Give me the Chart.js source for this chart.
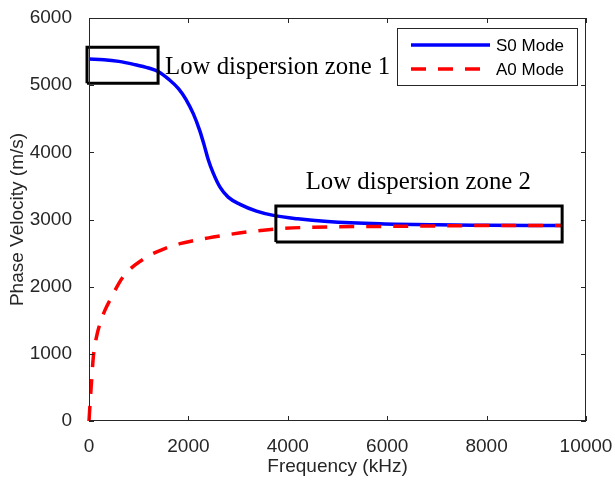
<!DOCTYPE html>
<html>
<head>
<meta charset="utf-8">
<script src="https://cdn.jsdelivr.net/npm/chart.js@4.4.1/dist/chart.umd.min.js"></script>
<style>
    body { margin: 0; background: #fff; }
    #wrap { width: 615px; height: 484px; position: relative; }
</style>
</head>
<body>
<div id="wrap"><canvas id="Chart1"></canvas></div>
<script>
// S0 mode (blue, solid)
const freqS0 = [0, 300, 600, 900, 1200, 1400, 1600, 1800, 1950, 2100, 2230, 2320, 2400, 2500, 2636, 2800, 3040, 3370, 3710, 4200, 4800, 5855, 7000, 8000, 9500];
const velS0 = [5390, 5380, 5354, 5310, 5255, 5200, 5090, 4950, 4790, 4572, 4320, 4100, 3890, 3690, 3481, 3333, 3225, 3125, 3061, 3010, 2970, 2935, 2920, 2915, 2910];

// A0 mode (red, dashed)
const freqA0 = [0, 25, 53, 87, 150, 221, 322, 422, 690, 1160, 1500, 1831, 2500, 3173, 3843, 4500, 5855, 7000, 8000, 9500];
const velA0 = [0, 300, 610, 955, 1250, 1450, 1650, 1800, 2150, 2441, 2560, 2640, 2738, 2813, 2863, 2885, 2897, 2905, 2910, 2912];

const seriesLabels = ["S0 Mode", "A0 Mode"];

const xTicks = [0, 2000, 4000, 6000, 8000, 10000];
const yTicks = [0, 1000, 2000, 3000, 4000, 5000, 6000];

// annotation boxes [xmin, xmax, ymin, ymax] and their captions
const zone1Box = [-40, 1390, 5030, 5565];
const zone2Box = [3760, 9520, 2665, 3200];
const zoneLabels = ["Low dispersion zone 1", "Low dispersion zone 2"];
const zoneLabelAt = [[1530, 5170], [4360, 3450]];

const axisColor = "#262626";

function toPoints(xs, ys) {
    return xs.map((x, i) => ({x: x, y: ys[i]}));
}

function boxPoints(b) {
    return [{x: b[0], y: b[2]}, {x: b[1], y: b[2]}, {x: b[1], y: b[3]}, {x: b[0], y: b[3]}, {x: b[0], y: b[2]}];
}

const matlabLook = {
    id: "matlabLook",
    afterDatasetsDraw(chart) {
        const ctx = chart.ctx;
        const area = chart.chartArea;
        const xs = chart.scales.x;
        const ys = chart.scales.y;
        ctx.save();

        // box + inside ticks
        ctx.strokeStyle = axisColor;
        ctx.lineWidth = 1;
        ctx.strokeRect(area.left + 0.5, area.top + 0.5, area.right - area.left - 1, area.bottom - area.top - 1);
        ctx.beginPath();
        xTicks.forEach(v => {
            const px = Math.round(xs.getPixelForValue(v)) + 0.5;
            ctx.moveTo(px, area.bottom); ctx.lineTo(px, area.bottom - 5);
            ctx.moveTo(px, area.top); ctx.lineTo(px, area.top + 5);
        });
        yTicks.forEach(v => {
            const py = Math.round(ys.getPixelForValue(v)) + 0.5;
            ctx.moveTo(area.left, py); ctx.lineTo(area.left + 5, py);
            ctx.moveTo(area.right, py); ctx.lineTo(area.right - 5, py);
        });
        ctx.stroke();

        // zone captions
        ctx.fillStyle = "#000";
        ctx.font = "24.8px 'Liberation Serif', 'Times New Roman', serif";
        ctx.textBaseline = "alphabetic";
        ctx.textAlign = "left";
        zoneLabels.forEach((t, i) => {
            ctx.fillText(t, xs.getPixelForValue(zoneLabelAt[i][0]), ys.getPixelForValue(zoneLabelAt[i][1]));
        });

        // legend
        const lw = 180, lh = 57;
        const lx = area.right - 9 - lw, ly = area.top + 10;
        ctx.fillStyle = "#fff";
        ctx.fillRect(lx, ly, lw, lh);
        ctx.strokeStyle = axisColor;
        ctx.lineWidth = 1;
        ctx.strokeRect(lx + 0.5, ly + 0.5, lw, lh);
        ctx.font = "17px 'Liberation Sans', Arial, sans-serif";
        ctx.textBaseline = "middle";
        chart.data.datasets.slice(0, 2).forEach((ds, i) => {
            const yy = ly + 17 + i * 24;
            ctx.strokeStyle = ds.borderColor;
            ctx.lineWidth = 3.5;
            ctx.setLineDash(ds.borderDash || []);
            ctx.beginPath();
            ctx.moveTo(lx + 14, yy);
            ctx.lineTo(lx + 93, yy);
            ctx.stroke();
            ctx.setLineDash([]);
            ctx.fillStyle = "#000";
            ctx.fillText(ds.label, lx + 99, yy + 1);
        });
        ctx.restore();
    }
};

const ctx = document.getElementById("Chart1").getContext("2d");
new Chart(ctx, {
    type: "line",
    data: {
        datasets: [{
                label: seriesLabels[0],
                data: toPoints(freqS0, velS0),
                borderColor: "#0000ff",
                borderWidth: 3.5,
                pointRadius: 0,
                cubicInterpolationMode: "monotone",
                order: 2,
                clip: 6
            }, {
                label: seriesLabels[1],
                data: toPoints(freqA0, velA0),
                borderColor: "#ff0000",
                borderWidth: 3.5,
                borderDash: [15, 12],
                pointRadius: 0,
                cubicInterpolationMode: "monotone",
                order: 1,
                clip: 6
            }, {
                label: "box1",
                data: boxPoints(zone1Box),
                borderColor: "#000",
                borderWidth: 3,
                pointRadius: 0,
                tension: 0,
                order: 0,
                clip: 6
            }, {
                label: "box2",
                data: boxPoints(zone2Box),
                borderColor: "#000",
                borderWidth: 3,
                pointRadius: 0,
                tension: 0,
                order: 0,
                clip: 6
            }]
    },
    options: {
        responsive: true,
        maintainAspectRatio: false,
        animation: false,
        layout: {padding: {left: 0, top: 18, right: 29, bottom: 0}},
        plugins: {
            legend: {display: false},
            tooltip: {enabled: false}
        },
        scales: {
            x: {
                type: "linear",
                min: 0,
                max: 10000,
                afterBuildTicks: s => { s.ticks = xTicks.map(v => ({value: v})); },
                afterFit: s => { s.height = 63; s.paddingLeft = 0; s.paddingRight = 0; },
                grid: {display: false},
                border: {display: false},
                ticks: {color: axisColor, padding: 6, maxRotation: 0, callback: v => String(v), font: {family: "'Liberation Sans', Arial", size: 19}},
                title: {display: true, text: "Frequency (kHz)", color: axisColor, padding: {top: 0, bottom: 6}, font: {family: "'Liberation Sans', Arial", size: 19}}
            },
            y: {
                min: 0,
                max: 6000,
                afterBuildTicks: s => { s.ticks = yTicks.map(v => ({value: v})); },
                afterFit: s => { s.width = 89; s.paddingTop = 0; s.paddingBottom = 0; },
                grid: {display: false},
                border: {display: false},
                ticks: {color: axisColor, padding: 9, callback: v => String(v), font: {family: "'Liberation Sans', Arial", size: 19}},
                title: {display: true, text: "Phase Velocity (m/s)", color: axisColor, padding: {top: 6, bottom: 0}, font: {family: "'Liberation Sans', Arial", size: 19}}
            }
        }
    },
    plugins: [matlabLook]
});
</script>
</body>
</html>
